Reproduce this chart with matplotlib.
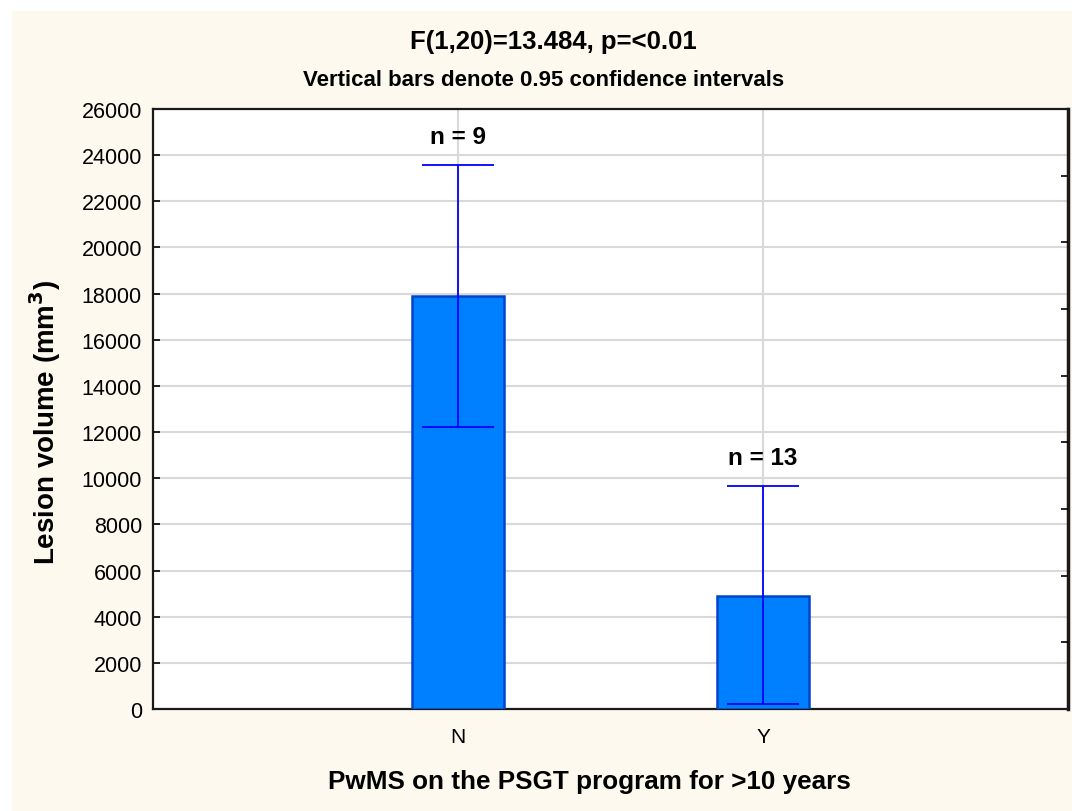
import matplotlib
matplotlib.use("Agg")
import matplotlib.pyplot as plt
import numpy as np
from matplotlib.patches import Rectangle

plt.rcParams['font.family'] = ['Liberation Sans', 'DejaVu Sans']

groups = ['N', 'Y']
means = [17900, 4900]
ci_low = [12230, 200]
ci_high = [23580, 9650]
counts = [9, 13]
yticks = np.arange(0, 26001, 2000)

W, H = 1072, 812
fig = plt.figure(figsize=(W / 100, H / 100), dpi=100, facecolor='white')
# beige panel behind everything
fig.patches.append(Rectangle((12 / W, 0), 1, (H - 12) / H, transform=fig.transFigure,
                             facecolor='#FDF9EE', edgecolor='none', zorder=-10))

ax = fig.add_axes([153 / W, 1 - 710 / H, (1068 - 153) / W, 600 / H])
ax.set_facecolor('white')

x = np.arange(1, len(groups) + 1)
ax.bar(x, means, width=0.3, color='#0080FF', edgecolor='#0044CC', linewidth=1.8, zorder=3)

m = np.array(means)
err = [m - np.array(ci_low), np.array(ci_high) - m]
ax.errorbar(x, means, yerr=err, fmt='none', ecolor='#0000FF', elinewidth=1.3,
            capsize=26, capthick=1.3, zorder=4)

for xi, hi, n in zip(x, ci_high, counts):
    ax.text(xi, hi + 750, f'n = {n}', ha='center', va='bottom', fontsize=17.5, fontweight='bold')

ax.set_xlim(0, 3)
ax.set_ylim(0, 26000)
ax.set_xticks(x)
ax.set_xticklabels(groups, fontsize=15)
ax.set_yticks(yticks)
ax.set_yticklabels([str(v) for v in yticks], fontsize=15.5)
ax.tick_params(axis='both', direction='in', length=5, width=1.2, pad=8)
ax.tick_params(axis='x', pad=13)
ax.grid(True, color='#D9D9D9', linewidth=1.5, zorder=0)
ax.set_axisbelow(True)
for s in ax.spines.values():
    s.set_linewidth(1.6)
    s.set_color('#1a1a1a')
ax.spines['right'].set_linewidth(2.5)

# right axis with unlabeled ticks
ax2 = ax.twinx()
ax2.set_ylim(0, 9)
ax2.set_yticks(np.arange(1, 9))
ax2.set_yticklabels([])
ax2.tick_params(axis='y', direction='in', length=5, width=1.2)
for s in ax2.spines.values():
    s.set_visible(False)

fig.text(553 / W, 1 - 42 / H, 'F(1,20)=13.484, p=<0.01', ha='center', va='center',
         fontsize=18.5, fontweight='bold')
fig.text(544 / W, 1 - 80 / H, 'Vertical bars denote 0.95 confidence intervals', ha='center',
         va='center', fontsize=16, fontweight='bold')
fig.text(589 / W, 1 - 782 / H, 'PwMS on the PSGT program for >10 years', ha='center',
         va='center', fontsize=18.8, fontweight='bold')
fig.text(45 / W, 1 - 422 / H, 'Lesion volume (mm$^\\mathbf{3}$)', ha='center', va='center',
         rotation=90, fontsize=20, fontweight='bold')

fig.savefig('out.png', dpi=100, facecolor=fig.get_facecolor())
